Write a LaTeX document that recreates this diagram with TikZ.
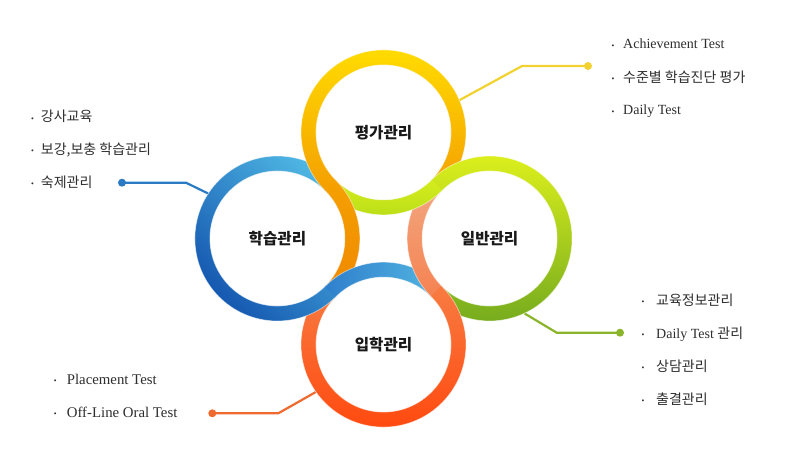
\documentclass[tikz,border=0pt]{standalone}
\usepackage{fontspec}
\setmainfont{Liberation Serif}
\newfontfamily\kr{Noto Sans CJK KR}
\definecolor{vTa}{HTML}{FFDB00}\definecolor{vTb}{HTML}{F29400}
\definecolor{vLa}{HTML}{F6A600}\definecolor{vLb}{HTML}{EE8200}
\definecolor{vRa}{HTML}{F1B08A}\definecolor{vRb}{HTML}{F67A48}
\definecolor{vBa}{HTML}{F6844A}\definecolor{vBb}{HTML}{FF4A10}
\definecolor{hLa}{HTML}{52BCE6}\definecolor{hLb}{HTML}{1558B0}
\definecolor{hBa}{HTML}{2774C8}\definecolor{hBb}{HTML}{5CC2E6}
\definecolor{hRa}{HTML}{DCEF1C}\definecolor{hRb}{HTML}{76AC1E}
\definecolor{hTa}{HTML}{D6ED1E}\definecolor{hTb}{HTML}{BCDF18}
\definecolor{cY}{HTML}{F2D230}\definecolor{cB}{HTML}{2B7BC4}
\definecolor{cG}{HTML}{8AB52A}\definecolor{cO}{HTML}{EE6A2E}
\definecolor{txt}{HTML}{2E2E2E}
\newcommand\ringpiece[6]{%
 \begin{scope}
  \clip ([shift={(#1)}]#2:82.5) arc[start angle=#2,end angle=#3,radius=82.5]
     -- ([shift={(#1)}]#3:67.5) arc[start angle=#3,end angle=#2,radius=67.5] -- cycle;
  \shade[#4] ([shift={(#1)}]#5) rectangle ([shift={(#1)}]#6);
 \end{scope}
 \draw[edgeline] ([shift={(#1)}]#2:82.5) arc[start angle=#2,end angle=#3,radius=82.5];
 \draw[edgeline] ([shift={(#1)}]#2:67.5) arc[start angle=#2,end angle=#3,radius=67.5];
}
\newcommand\K[1]{{\kr\fontsize{14}{16}\selectfont #1}}
\newcommand\bul[1]{\makebox[#1][l]{\hspace{0.3pt}\raisebox{0.6pt}{\fontsize{8}{8}\selectfont •}}}
\begin{document}
\begin{tikzpicture}[x=1pt,y=1pt,
  edgeline/.style={white,opacity=0.55,line width=0.7pt},
  ringlabel/.style={circle,minimum size=165pt,inner sep=0pt,text=black!90,
     font=\kr\bfseries\fontsize{15.6}{18}\selectfont},
  conn/.style={line width=2.2pt,#1},
  dotmark/.style={circle,fill=#1,inner sep=0pt,minimum size=8pt},
  listtext/.style={anchor=base west,inner sep=0pt,text=txt,font=\fontsize{14}{16}\selectfont},
  shV1/.style={top color=vTa,bottom color=vTb},
  shV2/.style={top color=vRa,bottom color=vRb},
  shV3/.style={top color=vBa,bottom color=vBb},
  shV4/.style={top color=vLa,bottom color=vLb},
  shH1/.style={top color=hLa,bottom color=hLb,shading angle=-45},
  shH2/.style={left color=hBa,right color=hBb},
  shH3/.style={top color=hRa,bottom color=hRb},
  shH4/.style={top color=hTa,bottom color=hTb}]
\useasboundingbox (0,0) rectangle (798,475);
\fill[white] (0,0) rectangle (798,475);
\coordinate (T) at (383.5,342.6);
\coordinate (B) at (383.5,130.4);
\coordinate (L) at (277.4,236.5);
\coordinate (R) at (489.6,236.5);
\node[ringlabel] (Tn) at (T) {};
\node[ringlabel] (Bn) at (B) {};
\node[ringlabel] (Ln) at (L) {};
\node[ringlabel] (Rn) at (R) {};
% connectors
\coordinate (e1) at (522,409); \coordinate (d1) at (588,409);
\coordinate (e2) at (186,292.3); \coordinate (d2) at (122,292.3);
\coordinate (e3) at (556.7,142.3); \coordinate (d3) at (620,142.3);
\coordinate (e4) at (278.3,61.7); \coordinate (d4) at (212.3,61.7);
\draw[conn=cY] (Tn.23) -- (e1) -- (d1);
\draw[conn=cB] (Ln.147) -- (e2) -- (d2);
\draw[conn=cG] (Rn.-65) -- (e3) -- (d3);
\draw[conn=cO] (Bn.-145) -- (e4) -- (d4);
\node[dotmark=cY] (p1) at (d1) {};
\node[dotmark=cB] (p2) at (d2) {};
\node[dotmark=cG] (p3) at (d3) {};
\node[dotmark=cO] (p4) at (d4) {};
% group T-L : vertical over horizontal
\ringpiece{L}{44.5}{180.5}{shH1}{-83,-83}{83,83}
\ringpiece{T}{-89.5}{-135.5}{shH4}{-83,-83}{83,-45}
\ringpiece{T}{225.5}{89.5}{shV1}{-83,-83}{83,83}
\ringpiece{L}{-0.5}{45.5}{shV4}{-83,-83}{83,83}
% group T-R : horizontal over vertical
\ringpiece{T}{90.5}{-45.5}{shV1}{-83,-83}{83,83}
\ringpiece{R}{134.5}{180.5}{shV2}{-83,-83}{83,83}
\ringpiece{R}{359.5}{495.5}{shH3}{-83,-83}{83,83}
\ringpiece{T}{-44.5}{-90.5}{shH4}{-83,-83}{83,-45}
% group R-B : vertical over horizontal
\ringpiece{B}{90.5}{44.5}{shH2}{-83,-83}{83,83}
\ringpiece{R}{224.5}{360.5}{shH3}{-83,-83}{83,83}
\ringpiece{R}{179.5}{225.5}{shV2}{-83,-83}{83,83}
\ringpiece{B}{45.5}{-90.5}{shV3}{-83,-83}{83,83}
% group B-L : horizontal over vertical
\ringpiece{B}{-89.5}{-225.5}{shV3}{-83,-83}{83,83}
\ringpiece{L}{-45.5}{0.5}{shV4}{-83,-83}{83,83}
\ringpiece{L}{179.5}{315.5}{shH1}{-83,-83}{83,83}
\ringpiece{B}{135.5}{89.5}{shH2}{-83,-83}{83,83}
% ring labels
\node[ringlabel] (Tt) at (T) {평가관리};
\node[ringlabel] (Bt) at (B) {입학관리};
\node[ringlabel] (Lt) at (L) {학습관리};
\node[ringlabel] (Rt) at (R) {일반관리};
% lists
\node[listtext] (a1) at (611,426) {\bul{12pt}Achievement Test};
\node[listtext] (a2) at (611,392.5) {\bul{12pt}\K{수준별 학습진단 평가}};
\node[listtext] (a3) at (611,360) {\bul{12pt}Daily Test};
\node[listtext] (b1) at (30.6,353) {\bul{10.1pt}\K{강사교육}};
\node[listtext] (b2) at (30.6,320.5) {\bul{10.1pt}\K{보강,보충 학습관리}};
\node[listtext] (b3) at (30.6,287.5) {\bul{10.1pt}\K{숙제관리}};
\node[listtext] (c1) at (641,169.5) {\bul{15pt}\K{교육정보관리}};
\node[listtext] (c2) at (641,136.5) {\bul{15pt}Daily Test \K{관리}};
\node[listtext] (c3) at (641,103.5) {\bul{15pt}\K{상담관리}};
\node[listtext] (c4) at (641,70.5) {\bul{15pt}\K{출결관리}};
\node[listtext,font=\fontsize{14.8}{17}\selectfont] (f1) at (53.3,91) {\bul{13.4pt}Placement Test};
\node[listtext,font=\fontsize{14.8}{17}\selectfont] (f2) at (53.3,57.7) {\bul{13.4pt}Off-Line Oral Test};
\end{tikzpicture}
\end{document}
